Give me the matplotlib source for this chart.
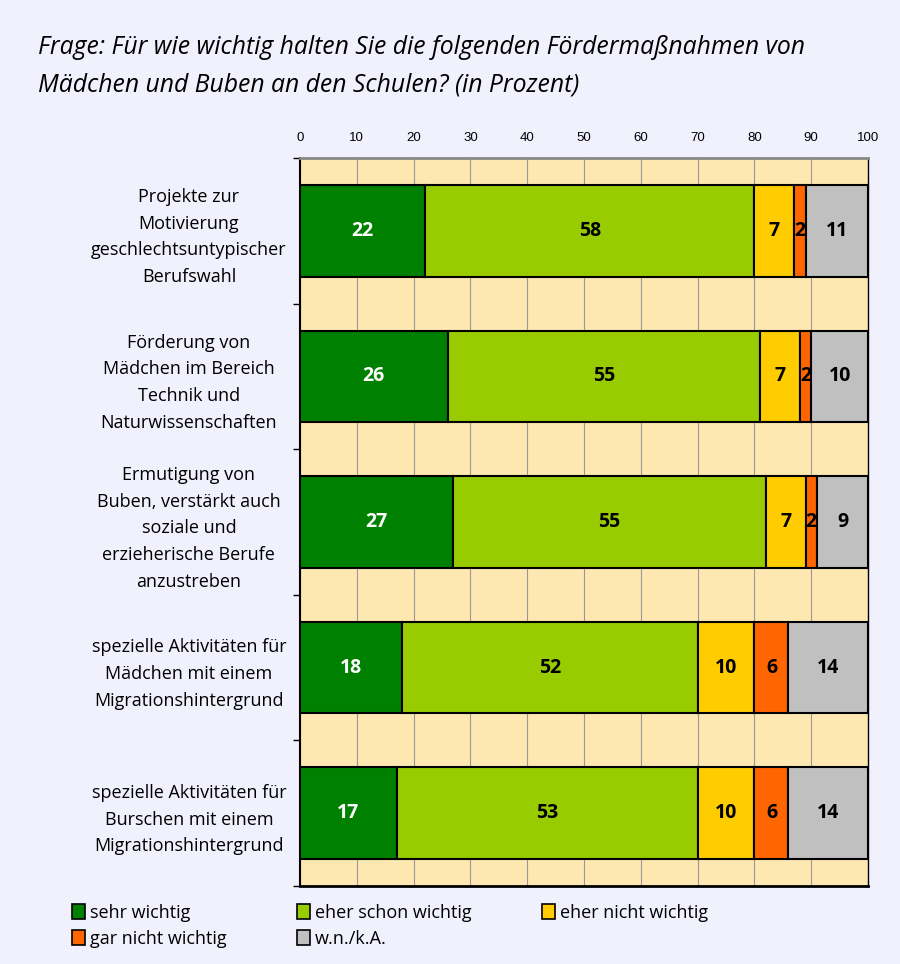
import matplotlib.pyplot as plt
import numpy as np
from matplotlib.patches import Patch

categories = [
    'Projekte zur\nMotivierung\ngeschlechtsuntypischer\nBerufswahl',
    'Förderung von\nMädchen im Bereich\nTechnik und\nNaturwissenschaften',
    'Ermutigung von\nBuben, verstärkt auch\nsoziale und\nerzieherische Berufe\nanzustreben',
    'spezielle Aktivitäten für\nMädchen mit einem\nMigrationshintergrund',
    'spezielle Aktivitäten für\nBurschen mit einem\nMigrationshintergrund',
]
series_names = ['sehr wichtig', 'eher schon wichtig', 'eher nicht wichtig',
                'gar nicht wichtig', 'w.n./k.A.']
sehr = [22, 26, 27, 18, 17]
eher_schon = [58, 55, 55, 52, 53]
eher_nicht = [7, 7, 7, 10, 10]
gar_nicht = [2, 2, 2, 6, 6]
wnka = [11, 10, 9, 14, 14]
xticks = [0, 10, 20, 30, 40, 50, 60, 70, 80, 90, 100]

colors = ['#008000', '#99CC00', '#FFCC00', '#FF6600', '#C0C0C0']
text_colors = ['white', 'black', 'black', 'black', 'black']
title = ('Frage: Für wie wichtig halten Sie die folgenden Fördermaßnahmen von\n'
         'Mädchen und Buben an den Schulen? (in Prozent)')

font = ['Open Sans', 'DejaVu Sans']
narrow = ['Liberation Sans Narrow', 'Liberation Sans', 'DejaVu Sans']

fig = plt.figure(figsize=(9, 9.64), dpi=100, facecolor='#F1F1FE')
ax = fig.add_axes([300 / 900, 1 - 886 / 964, 568 / 900, 728 / 964])
ax.set_facecolor('#FEE8B2')

y = np.arange(len(categories))
data = [sehr, eher_schon, eher_nicht, gar_nicht, wnka]
left = np.zeros(len(categories))
for vals, col, tcol in zip(data, colors, text_colors):
    vals = np.array(vals)
    ax.barh(y, vals, left=left, height=0.63, color=col, edgecolor='black',
            linewidth=1.5, zorder=3)
    for yi, l, v in zip(y, left, vals):
        ax.text(l + v / 2, yi, str(v), ha='center', va='center',
                fontsize=14, fontweight='bold', color=tcol, family=font,
                zorder=4)
    left = left + vals

ax.set_xlim(0, 100)
ax.set_ylim(len(categories) - 0.5, -0.5)
ax.xaxis.tick_top()
ax.set_xticks(xticks)
ax.set_xticklabels([str(t) for t in xticks], family=narrow, fontsize=9.5)
ax.tick_params(axis='x', length=0, pad=10)
ax.grid(axis='x', color='#999999', linewidth=0.8, zorder=1)

ax.set_yticks(y)
ax.set_yticklabels(categories, family=font, fontsize=13, ha='center',
                   linespacing=1.62)
ax.tick_params(axis='y', length=0, pad=80)
ax.set_yticks(np.arange(len(categories) + 1) - 0.5, minor=True)
ax.tick_params(axis='y', which='minor', length=5, width=1, color='black')

ax.spines['top'].set_color('#888888')
ax.spines['top'].set_linewidth(2)
ax.spines['left'].set_linewidth(1.5)
ax.spines['bottom'].set_linewidth(2)
ax.spines['right'].set_linewidth(1)

fig.text(38 / 900, 1 - 35 / 964, title, family=font, style='italic',
         fontsize=17.8, va='top', ha='left', linespacing=1.65)

# legend fills column by column, reorder so it reads row by row
order = [0, 3, 1, 4, 2]
handles = [Patch(facecolor=colors[i], edgecolor='black', linewidth=1.2)
           for i in order]
labels = [series_names[i] for i in order]
fig.legend(handles, labels, loc='upper left',
           bbox_to_anchor=(72 / 900, 1 - 904 / 964), ncol=3, frameon=False,
           prop={'family': font, 'size': 13}, handlelength=0.7,
           handleheight=0.9, handletextpad=0.3, columnspacing=3.9,
           labelspacing=0.45, borderaxespad=0, borderpad=0)

fig.savefig('out.png', dpi=100, facecolor=fig.get_facecolor())
